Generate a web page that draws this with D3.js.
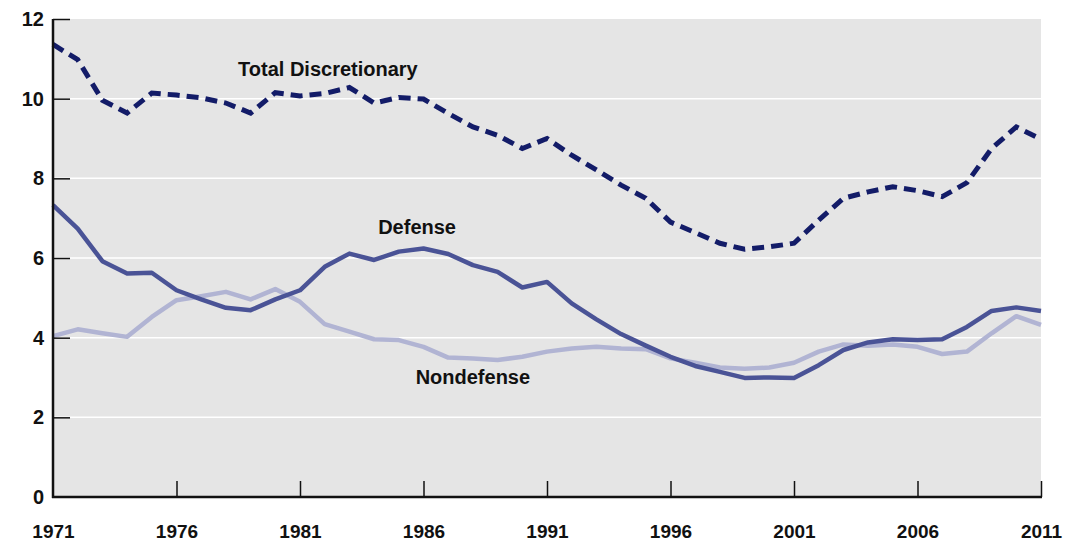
<!DOCTYPE html>
<html><head><meta charset="utf-8">
<script src="https://cdn.jsdelivr.net/npm/d3@7"></script>
<style>body{margin:0;background:#fff}svg{display:block}</style>
</head><body>
<svg id="c" width="1066" height="543"></svg>
<script>
const years = d3.range(1971, 2012);
const totalDiscretionary = [11.36,10.98,9.96,9.64,10.14,10.09,10.02,9.89,9.64,10.15,10.07,10.13,10.28,9.89,10.03,9.99,9.63,9.29,9.08,8.75,9.0,8.58,8.21,7.83,7.50,6.90,6.64,6.37,6.22,6.28,6.37,6.95,7.50,7.66,7.79,7.69,7.54,7.89,8.75,9.29,8.98];
const defense = [7.33,6.74,5.92,5.61,5.63,5.19,4.96,4.75,4.69,4.96,5.19,5.78,6.11,5.95,6.16,6.24,6.10,5.82,5.65,5.26,5.40,4.86,4.46,4.09,3.80,3.52,3.29,3.14,2.99,3.0,2.99,3.31,3.69,3.88,3.96,3.94,3.96,4.27,4.67,4.76,4.67];
const nondefense = [4.04,4.21,4.11,4.02,4.52,4.94,5.04,5.15,4.96,5.22,4.90,4.34,4.15,3.96,3.94,3.77,3.50,3.48,3.44,3.52,3.65,3.73,3.77,3.73,3.71,3.48,3.37,3.25,3.22,3.25,3.37,3.65,3.83,3.80,3.83,3.77,3.59,3.65,4.11,4.54,4.32];
const yTicks = [0,2,4,6,8,10,12];
const xTicks = [1971,1976,1981,1986,1991,1996,2001,2006,2011];
const seriesLabels = ["Total Discretionary","Defense","Nondefense"];

const svg = d3.select("#c");
const L = 53, R = 1041, T = 19, B = 497;
const x = d3.scaleLinear().domain([1971, 2011]).range([L, R]);
const y = d3.scaleLinear().domain([0, 12]).range([B, T]);
const font = "'Liberation Sans', Arial, sans-serif";

svg.append("rect").attr("x", L).attr("y", T).attr("width", R - L).attr("height", B - T).attr("fill", "#e5e5e5");

// gridlines
svg.append("g").selectAll("line").data(yTicks.filter(d => d > 0 && d < 12)).join("line")
  .attr("x1", L).attr("x2", R).attr("y1", d => y(d)).attr("y2", d => y(d))
  .attr("stroke", "#fff").attr("stroke-width", 1.5);

// lines
const line = d3.line().x((d, i) => x(years[i])).y(d => y(d)).curve(d3.curveLinear);
svg.append("path").datum(nondefense).attr("d", line).attr("fill", "none")
  .attr("stroke", "#b1b4d3").attr("stroke-width", 4.5).attr("stroke-linejoin", "round");
svg.append("path").datum(defense).attr("d", line).attr("fill", "none")
  .attr("stroke", "#4a5396").attr("stroke-width", 4.5).attr("stroke-linejoin", "round");
svg.append("path").datum(totalDiscretionary).attr("d", line).attr("fill", "none")
  .attr("stroke", "#131c68").attr("stroke-width", 5).attr("stroke-dasharray", "12,7");

// y axis
const yAxis = d3.axisLeft(y).tickValues(yTicks).tickSize(-17).tickPadding(26).tickFormat(d3.format("d"));
const gy = svg.append("g").attr("transform", `translate(${L},0)`).call(yAxis);
gy.select(".domain").remove();
gy.selectAll(".tick line").attr("stroke", "#111").attr("stroke-width", 1.5);
gy.selectAll(".tick text").attr("font-family", font).attr("font-weight", "bold").attr("font-size", 20).attr("fill", "#111").attr("dx", 17);
gy.selectAll(".tick").filter(d => d === 0).select("line").remove();

// x axis
const xAxis = d3.axisBottom(x).tickValues(xTicks).tickSize(-16).tickPadding(37).tickFormat(d3.format("d"));
const gx = svg.append("g").attr("transform", `translate(0,${B})`).call(xAxis);
gx.select(".domain").remove();
gx.selectAll(".tick line").attr("stroke", "#111").attr("stroke-width", 1.5);
gx.selectAll(".tick text").attr("font-family", font).attr("font-weight", "bold").attr("font-size", 19).attr("fill", "#111").attr("dy", "0.2em");
gx.selectAll(".tick").filter(d => d === 1971).select("line").remove();

// axis lines
svg.append("line").attr("x1", L).attr("x2", L).attr("y1", T).attr("y2", B + 1).attr("stroke", "#111").attr("stroke-width", 2.5);
svg.append("line").attr("x1", L - 1).attr("x2", R + 1).attr("y1", B).attr("y2", B).attr("stroke", "#111").attr("stroke-width", 2.5);

// series labels
const labelPos = [[1982.13, 10.71], [1985.74, 6.73], [1988.0, 2.96]];
svg.append("g").selectAll("text").data(seriesLabels).join("text")
  .attr("x", (d, i) => x(labelPos[i][0])).attr("y", (d, i) => y(labelPos[i][1]))
  .attr("text-anchor", "middle").attr("dominant-baseline", "middle")
  .attr("font-family", font).attr("font-weight", "bold").attr("font-size", 20).attr("fill", "#111")
  .text(d => d);
</script>
</body></html>
